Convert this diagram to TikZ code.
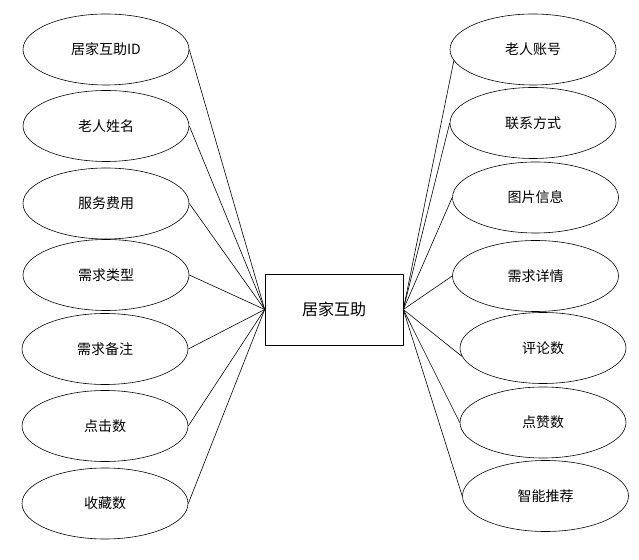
\documentclass[tikz,border=0pt]{standalone}
\usepackage{fontspec}
\setmainfont{Noto Sans CJK SC}
\usetikzlibrary{shapes}

\begin{document}
\begin{tikzpicture}[line join=bevel,
  attr/.style={ellipse,draw,line width=0.6pt,minimum width=166bp,minimum height=71bp,inner sep=0pt,font=\fontsize{14bp}{16bp}\selectfont},
  entity/.style={rectangle,draw,line width=0.6pt,minimum width=138bp,minimum height=71bp,inner sep=0pt,font=\fontsize{16bp}{18bp}\selectfont},
  link/.style={black,line width=0.6pt}]
\useasboundingbox (0bp,0bp) rectangle (639bp,560bp);
%%
\node (node_0) at (334bp,250.5bp) [entity] {居家互助};
%
  \node (node_1) at (106bp,510.5bp) [attr] {居家互助ID};
  \node (node_2) at (106bp,434bp) [attr] {老人姓名};
  \node (node_3) at (106bp,356.5bp) [attr] {服务费用};
  \node (node_4) at (106bp,285bp) [attr] {需求类型};
  \node (node_5) at (105bp,211bp) [attr] {需求备注};
  \node (node_6) at (105bp,134bp) [attr] {点击数};
  \node (node_7) at (105bp,56.5bp) [attr] {收藏数};
%
  \node (node_8) at (533bp,510.5bp) [attr] {老人账号};
  \node (node_9) at (533bp,437bp) [attr] {联系方式};
  \node (node_10) at (535.5bp,362.5bp) [attr] {图片信息};
  \node (node_11) at (535.5bp,284bp) [attr] {需求详情};
  \node (node_12) at (543bp,212bp) [attr] {评论数};
  \node (node_13) at (543bp,137.5bp) [attr] {点赞数};
  \node (node_14) at (545.5bp,64bp) [attr] {智能推荐};
%
  \foreach \i in {1,...,7}
    \draw [link] (node_\i.east) -- (node_0.west);
  \draw [link] (node_8.188) -- (node_0.east);
  \draw [link] (node_9.west) -- (node_0.east);
  \draw [link] (node_10.west) -- (node_0.east);
  \draw [link] (node_11.west) -- (node_0.east);
  \draw [link] (node_12.186) -- (node_0.east);
  \draw [link] (node_13.west) -- (node_0.east);
  \draw [link] (node_14.west) -- (node_0.east);
%
\end{tikzpicture}
\end{document}
